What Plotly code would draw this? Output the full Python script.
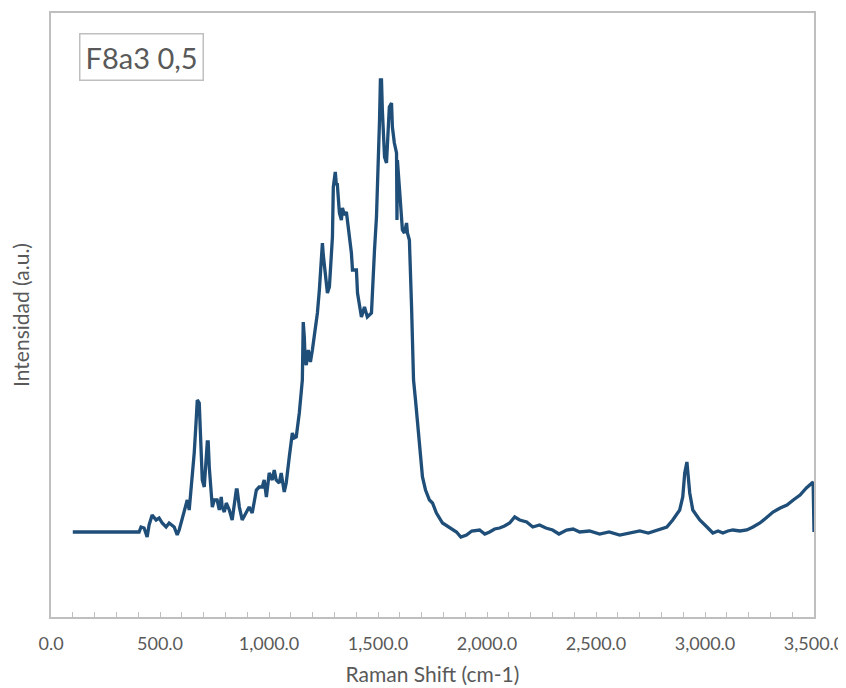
import plotly.graph_objects as go

# Raman shift (cm-1) and intensity (a.u.)
raman_shift = [100, 404, 413, 427, 441, 450, 464, 482, 496, 510, 528, 542, 565, 579, 588, 602,
               620, 625, 634, 643, 648, 657, 666, 671, 680, 684, 689, 694, 703, 712, 717, 721,
               726, 735, 740, 749, 762, 772, 781, 785, 795, 804, 818, 831, 841, 850, 854, 864,
               877, 896, 909, 923, 942, 955, 969, 978, 988, 1001, 1015, 1024, 1033, 1047, 1056,
               1070, 1079, 1093, 1107, 1116, 1125, 1139, 1148, 1153, 1157, 1162, 1166, 1171,
               1180, 1190, 1199, 1208, 1222, 1231, 1240, 1245, 1249, 1254, 1263, 1268, 1277,
               1286, 1291, 1295, 1300, 1304, 1309, 1313, 1323, 1332, 1337, 1346, 1355, 1360,
               1369, 1378, 1383, 1401, 1406, 1415, 1424, 1438, 1451, 1470, 1474, 1484, 1493,
               1497, 1507, 1511, 1516, 1520, 1530, 1539, 1543, 1552, 1562, 1566, 1575, 1585,
               1587, 1589, 1598, 1608, 1612, 1621, 1631, 1635, 1644, 1654, 1658, 1663, 1672,
               1681, 1690, 1704, 1718, 1736, 1750, 1768, 1796, 1828, 1860, 1880, 1906, 1930,
               1966, 1990, 2012, 2035, 2058, 2080, 2104, 2127, 2150, 2182, 2210, 2241, 2270,
               2301, 2330, 2365, 2395, 2425, 2470, 2517, 2560, 2609, 2650, 2701, 2740, 2779,
               2825, 2852, 2884, 2898, 2907, 2917, 2921, 2930, 2944, 2976, 3009, 3036, 3060,
               3082, 3105, 3128, 3160, 3192, 3220, 3252, 3280, 3312, 3345, 3376, 3405, 3436,
               3465, 3496, 3500]
intensity = [850, 850, 900, 890, 800, 920, 1020, 970, 990, 940, 900, 940, 900, 820, 870, 990,
             1140, 1170, 1070, 1300, 1370, 1640, 1970, 2170, 2140, 1940, 1640, 1370, 1300, 1540,
             1750, 1750, 1500, 1240, 1100, 1170, 1170, 1070, 1200, 1100, 1050, 1140, 1070, 970,
             1120, 1270, 1270, 1100, 970, 1040, 1100, 1040, 1270, 1300, 1300, 1370, 1200, 1440,
             1370, 1470, 1370, 1340, 1440, 1250, 1340, 1600, 1840, 1790, 1800, 2040, 2270, 2370,
             2950, 2800, 2550, 2520, 2670, 2550, 2670, 2800, 3040, 3270, 3640, 3740, 3620, 3500,
             3300, 3240, 3300, 3570, 3800, 4300, 4420, 4450, 4320, 4340, 4040, 3970, 4090, 4020,
             4050, 3970, 3770, 3640, 3470, 3470, 3240, 3100, 3000, 3100, 3000, 3040, 3270, 3670,
             4000, 4240, 4970, 5370, 5370, 5070, 4600, 4540, 4740, 5100, 5140, 4900, 4740, 4640,
             3970, 4570, 4300, 3970, 3870, 3840, 3940, 3840, 3770, 3100, 2770, 2370, 2170, 1970,
             1770, 1400, 1270, 1170, 1140, 1040, 940, 890, 850, 800, 820, 860, 870, 830, 850,
             880, 890, 910, 940, 1000, 970, 950, 900, 920, 890, 870, 830, 870, 880, 850, 860,
             830, 850, 820, 840, 860, 840, 870, 900, 970, 1070, 1200, 1440, 1550, 1470, 1240,
             1070, 970, 900, 840, 860, 840, 860, 870, 860, 870, 900, 940, 990, 1050, 1090, 1120,
             1170, 1220, 1290, 1350, 850]

x_ticks = [0, 500, 1000, 1500, 2000, 2500, 3000, 3500]
x_tick_labels = ["0.0", "500.0", "1,000.0", "1,500.0", "2,000.0", "2,500.0", "3,000.0", "3,500.0"]

font_family = "Lato, sans-serif"
grey = "#595959"
border = "#BFBFBF"

fig = go.Figure()
fig.add_trace(go.Scatter(
    x=raman_shift, y=intensity, mode="lines",
    line=dict(color="#1F4E79", width=3.3),
    showlegend=False, hoverinfo="x+y",
))

fig.update_layout(
    width=838, height=680,
    margin=dict(l=43, r=32, t=5, b=71),
    paper_bgcolor="white", plot_bgcolor="white",
    font=dict(family=font_family, color=grey, size=18),
    xaxis=dict(
        range=[0, 3500], tickvals=x_ticks, ticktext=x_tick_labels,
        showgrid=False, zeroline=False, automargin=False,
        showline=True, linecolor=border, linewidth=1.5, mirror=True,
        ticks="inside", ticklen=5, tickcolor=border, tickwidth=1.2,
        minor=dict(dtick=100, tick0=0, ticks="inside", ticklen=5, tickcolor=border, tickwidth=1.2, showgrid=False),
        ticklabelstandoff=10,
        tickfont=dict(size=18, color=grey),
        title=dict(text="Raman Shift (cm-1)", font=dict(size=21, color=grey), standoff=14),
    ),
    yaxis=dict(
        range=[0, 6040], showticklabels=False, ticks="",
        showgrid=False, zeroline=False, automargin=False,
        showline=True, linecolor=border, linewidth=1.5, mirror=True,
        title=dict(text="Intensidad (a.u.)", font=dict(size=21, color=grey), standoff=16),
    ),
    annotations=[dict(
        text="F8a3 0,5", xref="paper", yref="paper",
        x=(79 - 51) / 763, y=1 - (33 - 13) / 604, xanchor="left", yanchor="top",
        showarrow=False, font=dict(size=29, color=grey),
        bordercolor=border, borderwidth=1.5, borderpad=5, bgcolor="white",
    )],
)

fig.write_html("out.html")
